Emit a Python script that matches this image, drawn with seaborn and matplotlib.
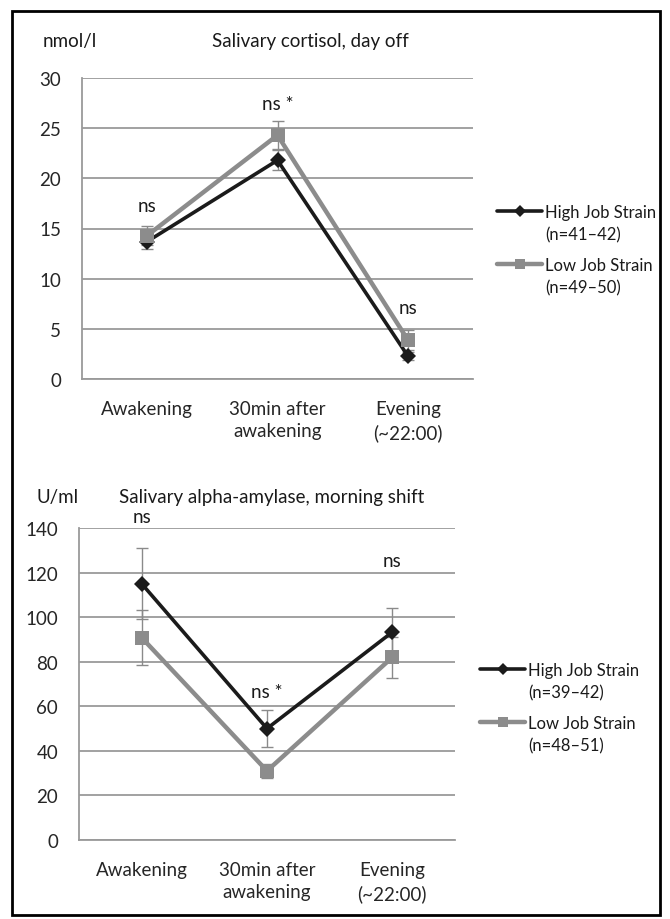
import numpy as np
import pandas as pd
import matplotlib
matplotlib.use("Agg")
import matplotlib.pyplot as plt
import seaborn as sns
from matplotlib.lines import Line2D
from matplotlib.patches import Rectangle
from matplotlib.legend_handler import HandlerLine2D

# ── data ─────────────────────────────────────────────────────────────────────

categories = ["Awakening", "30min after\nawakening", "Evening\n(~22:00)"]

# salivary cortisol, day off (nmol/l)
cort_high = [13.7, 21.8, 2.3]
cort_high_se = [0.7, 1.0, 0.4]
cort_low = [14.3, 24.3, 3.9]
cort_low_se = [0.9, 1.4, 1.0]
cort_sig = ["ns", "ns *", "ns"]
cort_sig_y = [17.3, 27.5, 7.1]

# salivary alpha-amylase, morning shift (U/ml)
amy_high = [115.0, 50.0, 93.3]
amy_high_se = [16.0, 8.2, 11.0]
amy_low = [90.8, 31.0, 82.0]
amy_low_se = [12.2, 3.0, 9.2]
amy_sig = ["ns", "ns *", "ns"]
amy_sig_y = [145.0, 66.5, 125.5]

cort_labels = ["High Job Strain\n(n=41\u201342)", "Low Job Strain\n(n=49\u201350)"]
amy_labels = ["High Job Strain\n(n=39\u201342)", "Low Job Strain\n(n=48\u201351)"]

# ── style ────────────────────────────────────────────────────────────────────

sns.set_style("white")
plt.rcParams["font.family"] = ["Lato", "DejaVu Sans"]
plt.rcParams["font.size"] = 13.5
plt.rcParams["text.color"] = "#1a1a1a"

GRID = "#9a9a9a"
BLACK = "#1b1b1b"
GRAY = "#8c8c8c"
ERR = "#8a8a8a"

W, H = 670, 920
fig = plt.figure(figsize=(W / 100, H / 100), dpi=100)


def px(x, y):
    return x / W, 1 - y / H


# legend line sits on the first text line, like the excel original
class FirstLineHandler(HandlerLine2D):
    def create_artists(self, legend, orig_handle, xdescent, ydescent,
                       width, height, fontsize, trans):
        arts = super().create_artists(legend, orig_handle, xdescent, ydescent,
                                      width, height, fontsize, trans)
        for a in arts:
            a.set_ydata(np.asarray(a.get_ydata(), float) + 0.78 * fontsize)
        return arts


def panel(ax, high, high_se, low, low_se, sig, sig_y, ymax, ystep, labels, leg_xy):
    df = pd.DataFrame({"cat": categories, "high": high, "low": low})
    ax.errorbar(categories, high, yerr=high_se, fmt="none", ecolor=ERR,
                elinewidth=1.0, capsize=4, capthick=1.0, zorder=1.5)
    ax.errorbar(categories, low, yerr=low_se, fmt="none", ecolor=ERR,
                elinewidth=1.0, capsize=4, capthick=1.0, zorder=1.5)
    sns.lineplot(data=df, x="cat", y="high", ax=ax, color=BLACK, lw=2.6,
                 marker="D", markersize=8, markeredgewidth=0, sort=False, zorder=2)
    sns.lineplot(data=df, x="cat", y="low", ax=ax, color=GRAY, lw=3.2,
                 marker="s", markersize=10.5, markeredgewidth=0, sort=False, zorder=2.2)

    for c, s, yv in zip(categories, sig, sig_y):
        ax.text(c, yv, s, ha="center", va="center", fontsize=13.5, clip_on=False)

    ax.set_xlim(-0.5, 2.5)
    ax.set_ylim(0, ymax)
    ax.set_yticks(np.arange(0, ymax + 1, ystep))
    ax.set_xticks([0, 1, 2])
    ax.set_xticklabels(categories, linespacing=1.4)
    ax.set_xticks([-0.5, 0.5, 1.5, 2.5], minor=True)
    ax.tick_params(axis="x", which="major", length=0, pad=15)
    ax.tick_params(axis="x", which="minor", length=7, width=1.3, color=GRID, direction="out")
    ax.tick_params(axis="y", length=7, width=1.3, color=GRID, direction="out", pad=8)
    ax.set_axisbelow(True)
    ax.yaxis.grid(True, color=GRID, lw=1.3)
    ax.xaxis.grid(False)
    for side in ["top", "right"]:
        ax.spines[side].set_visible(False)
    for side in ["left", "bottom"]:
        ax.spines[side].set_color(GRID)
        ax.spines[side].set_linewidth(1.3)
    ax.set_xlabel("")
    ax.set_ylabel("")

    handles = [
        Line2D([0], [0], color=BLACK, lw=2.6, marker="D", markersize=6, markeredgewidth=0),
        Line2D([0], [0], color=GRAY, lw=3.2, marker="s", markersize=7, markeredgewidth=0),
    ]
    leg = ax.legend(handles, labels, loc="upper left", bbox_to_anchor=px(*leg_xy),
                    bbox_transform=fig.transFigure, frameon=False, fontsize=12,
                    handlelength=2.7, handletextpad=0.2, labelspacing=0.85,
                    borderpad=0, borderaxespad=0,
                    handler_map={Line2D: FirstLineHandler()})
    for t in leg.get_texts():
        t.set_linespacing(1.5)


ax1 = fig.add_axes([82 / W, 1 - 380 / H, (473 - 82) / W, (380 - 79) / H])
panel(ax1, cort_high, cort_high_se, cort_low, cort_low_se, cort_sig, cort_sig_y,
      30, 5, cort_labels, (497, 205))

ax2 = fig.add_axes([79 / W, 1 - 841 / H, (455 - 79) / W, (841 - 529) / H])
panel(ax2, amy_high, amy_high_se, amy_low, amy_low_se, amy_sig, amy_sig_y,
      140, 20, amy_labels, (480, 663))

# unit labels and titles
fig.text(*px(43, 41), "nmol/l", ha="left", va="center", fontsize=13.5)
fig.text(*px(310, 41), "Salivary cortisol, day off", ha="center", va="center", fontsize=13.5)
fig.text(*px(37, 497), "U/ml", ha="left", va="center", fontsize=13.5)
fig.text(*px(272, 497), "Salivary alpha-amylase, morning shift", ha="center", va="center", fontsize=13.5)

# frame around the whole figure
fig.patches.append(Rectangle(px(12, 916), (660 - 12) / W, (916 - 12) / H,
                             transform=fig.transFigure, fill=False,
                             edgecolor="black", lw=2.0))

fig.savefig("out.png", dpi=100)
